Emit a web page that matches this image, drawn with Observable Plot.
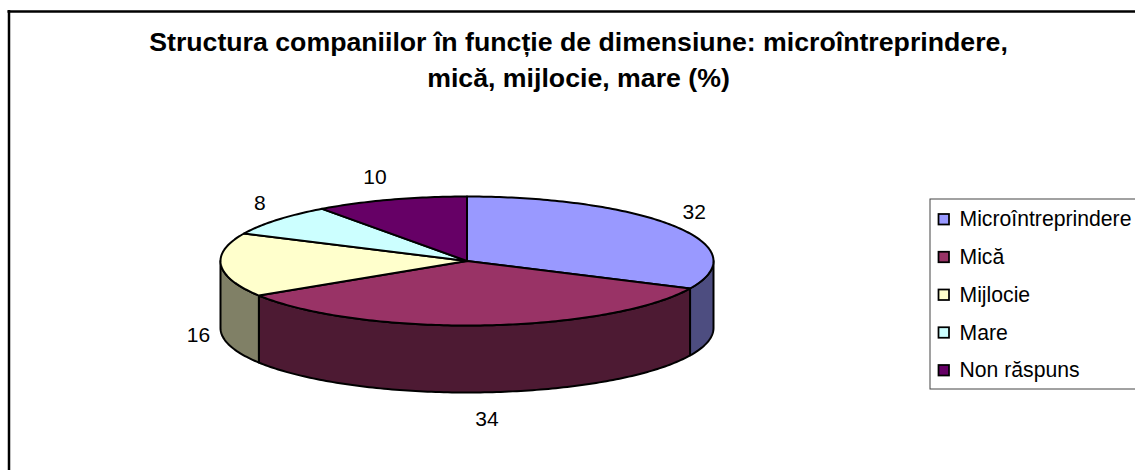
<!DOCTYPE html>
<html lang="ro">
<head>
<meta charset="utf-8">
<style>html,body{margin:0;padding:0;background:#fff}svg{display:block}</style>
<script src="https://cdn.jsdelivr.net/npm/d3@7"></script>
<script src="https://cdn.jsdelivr.net/npm/@observablehq/plot@0.6"></script>
</head>
<body>
<div id="chart"></div>
<script>
const categories = ["Microîntreprindere", "Mică", "Mijlocie", "Mare", "Non răspuns"];
const values = [32, 34, 16, 8, 10];
const topColors = ["#9999FF", "#993366", "#FFFFCC", "#CCFFFF", "#660066"];
const sideColors = ["#4D4D80", "#4D1A33", "#808066", "#668080", "#330033"];
const titleLines = ["Structura companiilor în funcție de dimensiune: microîntreprindere,", "mică, mijlocie, mare (%)"];

// Layout
const W = 1135, H = 470;
const cx = 466.5, cy = 260.5, rx = 246.5, ry = 64.5, depth = 67;
const font = "Liberation Sans, Arial, sans-serif";
const total = d3.sum(values);
const tau = Math.PI * 2;
const px = a => cx + rx * Math.sin(a);
const py = a => cy - ry * Math.cos(a);

let cum = 0;
const slices = values.map((v, i) => {
  const a0 = cum / total * tau; cum += v;
  return {i, v, a0, a1: cum / total * tau};
});
const arc = (a0, a1) => {
  const n = Math.max(2, Math.ceil((a1 - a0) * 60));
  return d3.range(n + 1).map(k => a0 + (a1 - a0) * k / n);
};

const marks = [];

// Outer frame
marks.push(Plot.ruleX([8.5], {y1: 10, y2: H, stroke: "#000", strokeWidth: 2.5}));
marks.push(Plot.ruleY([11], {x1: 7.5, x2: W, stroke: "#000", strokeWidth: 2.5}));

// Side walls (front half of the disc only)
for (const s of slices) {
  const a0 = Math.max(s.a0, tau / 4), a1 = Math.min(s.a1, tau * 3 / 4);
  if (a1 <= a0) continue;
  const as = arc(a0, a1);
  const pts = [
    ...as.map(a => ({x: px(a), y: py(a)})),
    ...as.slice().reverse().map(a => ({x: px(a), y: py(a) + depth})),
  ];
  pts.push(pts[0]);
  marks.push(Plot.line(pts, {x: "x", y: "y", fill: sideColors[s.i], stroke: "#000", strokeWidth: 2, curve: "linear"}));
}

// Top faces
for (const s of slices) {
  const pts = [{x: cx, y: cy}, ...arc(s.a0, s.a1).map(a => ({x: px(a), y: py(a)})), {x: cx, y: cy}];
  marks.push(Plot.line(pts, {x: "x", y: "y", fill: topColors[s.i], stroke: "#000", strokeWidth: 2, curve: "linear"}));
}

// Value labels
const labelRx = 269, labelRy = 91;
const labelShiftX = [0, 3, 0, 0, -9];
const labelShiftY = [0, 0, 2, 0, 3];
const labels = slices.map(s => {
  const m = (s.a0 + s.a1) / 2;
  const c = Math.cos(m);
  return {
    t: String(s.v),
    x: cx + labelRx * Math.sin(m) + labelShiftX[s.i],
    y: cy - labelRy * c + (c < 0 ? depth : 0) + labelShiftY[s.i]
  };
});
marks.push(Plot.text(labels, {x: "x", y: "y", text: "t", fontSize: 21, fill: "#000", fontFamily: font, textAnchor: "middle", lineAnchor: "middle"}));

// Title
marks.push(Plot.text(titleLines, {
  x: () => 578, y: (d, i) => 42 + i * 36, text: d => d,
  fontSize: 26.7, fontWeight: "bold", fill: "#000", fontFamily: font, textAnchor: "middle", lineAnchor: "middle"
}));

// Legend
const legX = 930, legTop = 199, legBottom = 389, rowTop = 219, rowStep = 37.75;
marks.push(Plot.rect([0], {x1: () => legX, x2: () => W + 4, y1: () => legTop, y2: () => legBottom, fill: "#fff", stroke: "#444", strokeWidth: 1}));
const legend = categories.map((c, i) => ({c, i, y: rowTop + i * rowStep}));
marks.push(Plot.rect(legend, {x1: () => 938.5, x2: () => 949, y1: d => d.y - 5, y2: d => d.y + 5.5, fill: d => topColors[d.i], stroke: "#000", strokeWidth: 1.75}));
marks.push(Plot.text(legend, {x: () => 959, y: "y", text: "c", fontSize: 21.2, fill: "#000", fontFamily: font, textAnchor: "start", lineAnchor: "middle"}));

const chart = Plot.plot({
  width: W, height: H,
  margin: 0,
  style: {background: "#fff", fontFamily: font},
  x: {type: "identity", axis: null},
  y: {type: "identity", axis: null},
  color: {type: "identity"},
  marks
});
document.getElementById("chart").appendChild(chart);
</script>
</body>
</html>
